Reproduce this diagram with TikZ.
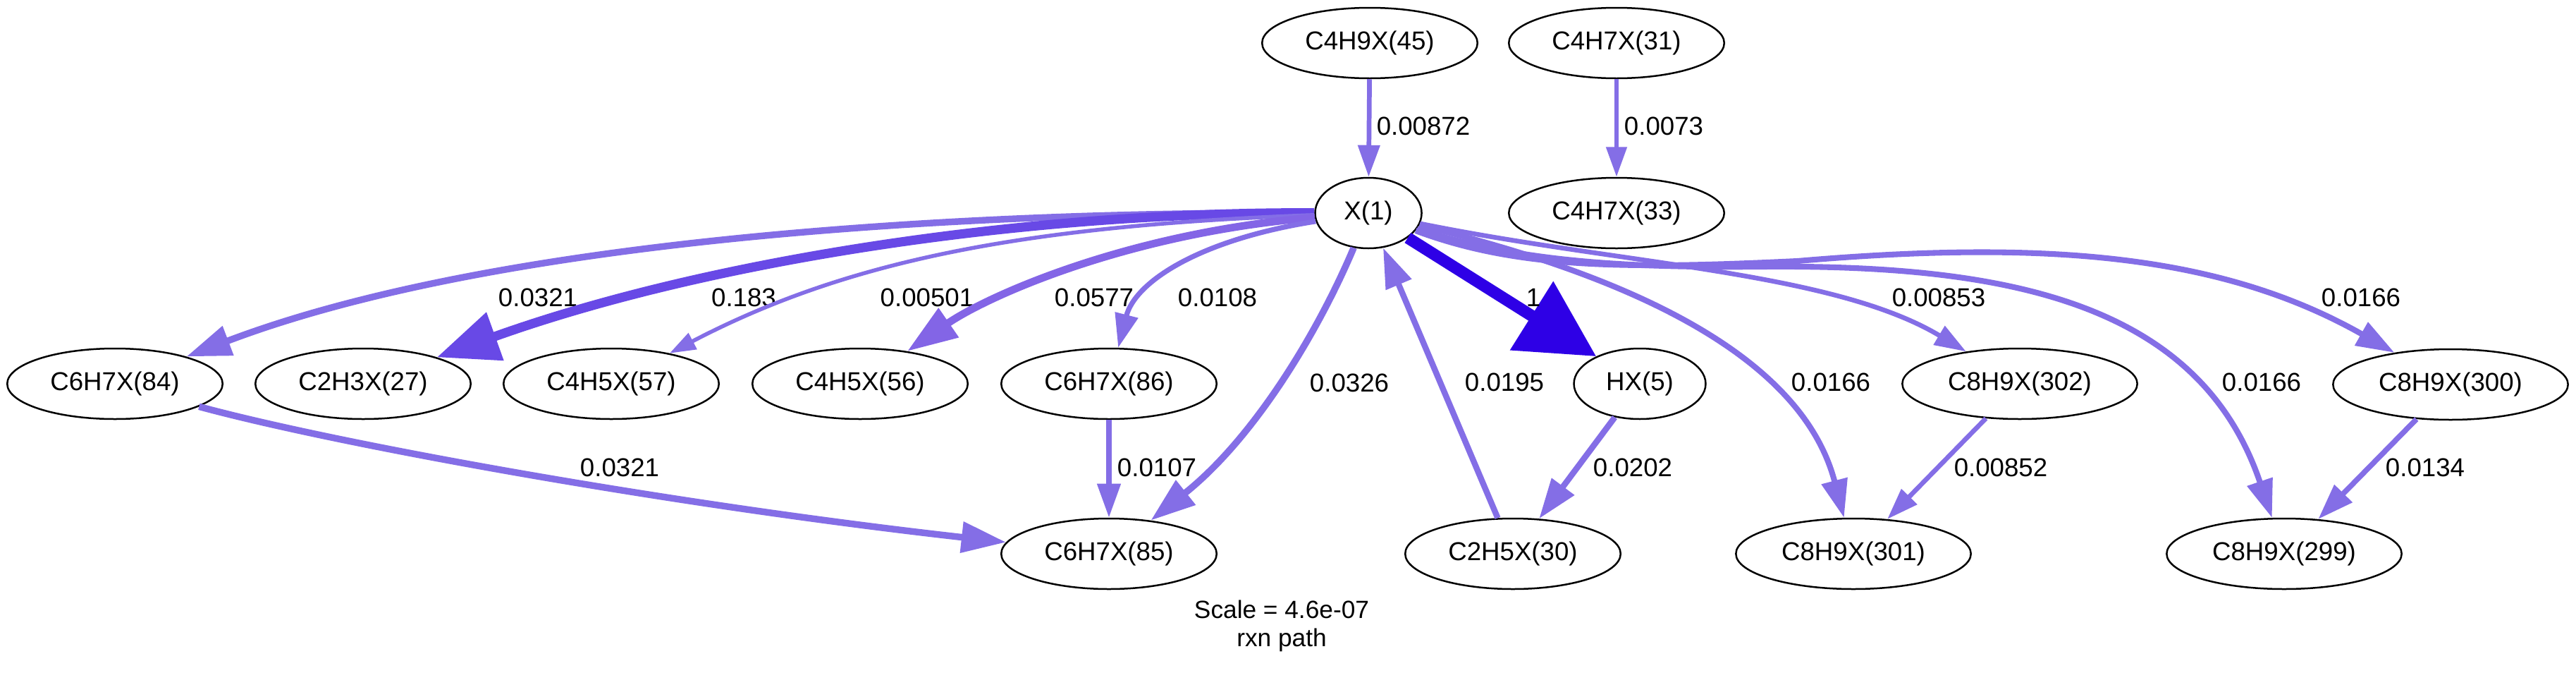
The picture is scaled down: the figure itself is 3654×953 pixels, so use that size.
\documentclass[tikz,border=0pt]{standalone}
\usepackage{fontspec}
\setmainfont{Liberation Sans}
\usetikzlibrary{shapes.geometric, arrows.meta}

\definecolor{fluxlow}{RGB}{132,110,230}
\definecolor{fluxmid}{RGB}{131,101,230}
\definecolor{fluxhigh}{RGB}{104,73,230}
\definecolor{fluxmax}{RGB}{46,0,230}

\begin{document}
\begin{tikzpicture}[x = 0.36pt, y = -0.36pt,
	species/.style = {ellipse, draw, line width = 0.9pt, inner sep = 0pt,
		minimum height = 36pt, minimum width = #1,
		font = \fontsize{13.2}{15.8}\selectfont},
	species/.default = 110pt,
	flux/.style n args = {4}{draw = #1, line width = #2pt,
		-{Triangle[length = #3pt, width = #4pt]}},
	rate/.style = {inner sep = 0pt, font = \fontsize{13.2}{15.8}\selectfont}]

	\useasboundingbox (0, 0) rectangle (3654, 953);

	% Species

	\node [species] (c4h9x45) at (1943, 61) {C4H9X(45)};
	\node [species] (c4h7x31) at (2293, 61) {C4H7X(31)};
	\node [species = 54.4pt] (x1) at (1941, 302) {X(1)};
	\node [species] (c4h7x33) at (2293, 302) {C4H7X(33)};

	\node [species] (c6h7x84) at (163, 544) {C6H7X(84)};
	\node [species] (c2h3x27) at (515, 544) {C2H3X(27)};
	\node [species] (c4h5x57) at (867, 544) {C4H5X(57)};
	\node [species] (c4h5x56) at (1220, 544) {C4H5X(56)};
	\node [species] (c6h7x86) at (1573, 544) {C6H7X(86)};
	\node [species = 67.3pt] (hx5) at (2326, 544) {HX(5)};
	\node [species = 120pt] (c8h9x302) at (2865, 544) {C8H9X(302)};
	\node [species = 120pt] (c8h9x300) at (3476, 545) {C8H9X(300)};

	\node [species] (c6h7x85) at (1573, 785) {C6H7X(85)};
	\node [species] (c2h5x30) at (2146, 785) {C2H5X(30)};
	\node [species = 120pt] (c8h9x301) at (2629, 785) {C8H9X(301)};
	\node [species = 120pt] (c8h9x299) at (3240, 785) {C8H9X(299)};

	% Fluxes into and out of X(1)

	\draw [flux = {fluxlow}{2.42}{16.2}{10.9}] (c4h9x45) -- (x1)
		node [rate] at (2019, 179) {0.00872};
	\draw [flux = {fluxlow}{3.40}{22.8}{15.3}] (x1) .. controls (1350, 300) and (700, 340) .. (c6h7x84)
		node [rate] at (763, 422) {0.0321};
	\draw [flux = {fluxhigh}{4.72}{31.6}{25}] (x1) .. controls (1450, 300) and (1000, 370) .. (c2h3x27)
		node [rate] at (1055, 422) {0.183};
	\draw [flux = {fluxlow}{2.0}{13.4}{9}] (x1) .. controls (1450, 320) and (1200, 370) .. (c4h5x57)
		node [rate] at (1315, 422) {0.00501};
	\draw [flux = {fluxmid}{3.85}{25.7}{17.3}] (x1) .. controls (1600, 330) and (1400, 420) .. (c4h5x56)
		node [rate] at (1552, 422) {0.0577};
	\draw [flux = {fluxlow}{2.58}{17.3}{11.6}] (x1) .. controls (1700, 340) and (1610, 400) .. (c6h7x86)
		node [rate] at (1727, 422) {0.0108};
	\draw [flux = {fluxlow}{3.42}{22.9}{15.4}] (x1) .. controls (1870, 470) and (1780, 620) .. (c6h7x85)
		node [rate] at (1914, 543) {0.0326};
	\draw [flux = {fluxlow}{3.03}{20.4}{13.6}] (c2h5x30) -- (x1)
		node [rate] at (2134, 542) {0.0195};
	\draw [flux = {fluxmax}{6}{39}{40}] (x1) -- (hx5)
		node [rate] at (2175, 422) {1};
	\draw [flux = {fluxlow}{2.91}{19.5}{13.1}] (x1) .. controls (2350, 400) and (2560, 520) .. (c8h9x301)
		node [rate] at (2597, 542) {0.0166};
	\draw [flux = {fluxlow}{2.40}{16.1}{10.8}] (x1) .. controls (2300, 375) and (2600, 385) .. (c8h9x302)
		node [rate] at (2750, 422) {0.00853};
	\draw [flux = {fluxlow}{2.91}{19.5}{13.1}] (x1) .. controls (2150, 370) and (2300, 380) .. (2500, 378)
		.. controls (2850, 375) and (3120, 430) .. (c8h9x299)
		node [rate] at (3208, 542) {0.0166};
	\draw [flux = {fluxlow}{2.91}{19.5}{13.1}] (x1) .. controls (2150, 380) and (2300, 382) .. (2550, 370)
		.. controls (2900, 340) and (3150, 360) .. (c8h9x300)
		node [rate] at (3349, 422) {0.0166};

	% Other fluxes

	\draw [flux = {fluxlow}{2.29}{15.3}{10.3}] (c4h7x31) -- (c4h7x33)
		node [rate] at (2360, 179) {0.0073};
	\draw [flux = {fluxlow}{3.40}{22.8}{15.3}] (c6h7x84) .. controls (480, 630) and (950, 715) .. (c6h7x85)
		node [rate] at (879, 663) {0.0321};
	\draw [flux = {fluxlow}{2.57}{17.3}{11.6}] (c6h7x86) -- (c6h7x85)
		node [rate] at (1641, 663) {0.0107};
	\draw [flux = {fluxlow}{3.06}{20.5}{13.8}] (hx5) -- (c2h5x30)
		node [rate] at (2316, 663) {0.0202};
	\draw [flux = {fluxlow}{2.40}{16.1}{10.8}] (c8h9x302) -- (c8h9x301)
		node [rate] at (2838, 663) {0.00852};
	\draw [flux = {fluxlow}{2.74}{18.4}{12.3}] (c8h9x300) -- (c8h9x299)
		node [rate] at (3440, 663) {0.0134};

	% Caption

	\node [align = center, font = \fontsize{12.7}{14.4}\selectfont] (caption) at (1818, 887)
		{Scale = 4.6e-07\\rxn path};

\end{tikzpicture}
\end{document}
